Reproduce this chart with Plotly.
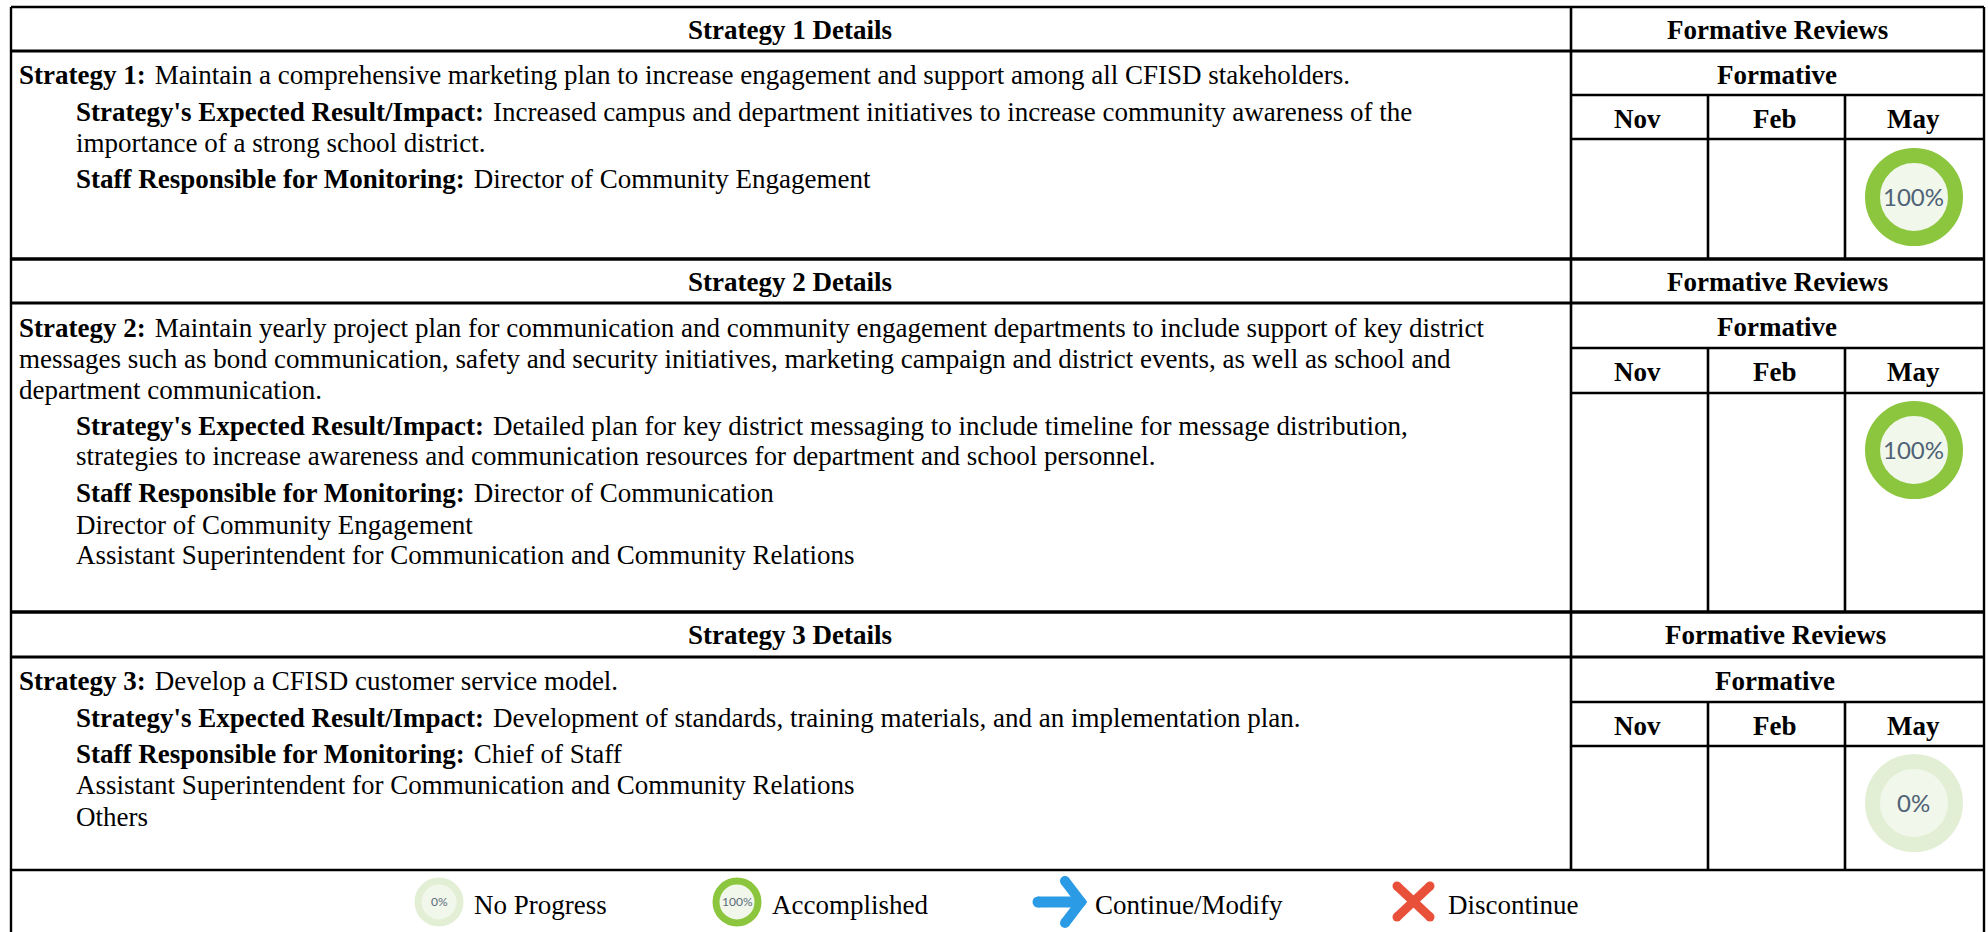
import plotly.graph_objects as go

W, H = 1988, 932
FONT = "Liberation Serif"
SIZE = 27

# ---- content ----
section_titles = ["Strategy 1 Details", "Strategy 2 Details", "Strategy 3 Details"]
review_title = "Formative Reviews"
formative_title = "Formative"
months = ["Nov", "Feb", "May"]
may_progress = [100, 100, 0]
may_labels = ["100%", "100%", "0%"]

body_lines = [
    ["<b>Strategy 1:</b> Maintain a comprehensive marketing plan to increase engagement and support among all CFISD stakeholders."],
    ["<b>Strategy's Expected Result/Impact:</b> Increased campus and department initiatives to increase community awareness of the",
     "importance of a strong school district."],
    ["<b>Staff Responsible for Monitoring:</b> Director of Community Engagement"],
    ["<b>Strategy 2:</b> Maintain yearly project plan for communication and community engagement departments to include support of key district",
     "messages such as bond communication, safety and security initiatives, marketing campaign and district events, as well as school and",
     "department communication."],
    ["<b>Strategy's Expected Result/Impact:</b> Detailed plan for key district messaging to include timeline for message distribution,",
     "strategies to increase awareness and communication resources for department and school personnel."],
    ["<b>Staff Responsible for Monitoring:</b> Director of Communication",
     "Director of Community Engagement",
     "Assistant Superintendent for Communication and Community Relations"],
    ["<b>Strategy 3:</b> Develop a CFISD customer service model."],
    ["<b>Strategy's Expected Result/Impact:</b> Development of standards, training materials, and an implementation plan."],
    ["<b>Staff Responsible for Monitoring:</b> Chief of Staff",
     "Assistant Superintendent for Communication and Community Relations",
     "Others"],
]
body_x = [17, 74, 74, 17, 74, 74, 17, 74, 74]
body_y = [[75], [112, 143], [179],
          [328, 359, 390], [426, 456], [493, 525, 555],
          [681], [718], [754, 785, 817]]

legend_labels = ["No Progress", "Accomplished", "Continue/Modify", "Discontinue"]
legend_label_x = [472, 770, 1093, 1446]
legend_ring_labels = ["0%", "100%"]
legend_ring_x = [439, 737]
legend_ring_colors = ["#E2EFD5", "#8CC63F"]

# ---- grid geometry (px) ----
left, right = 11, 1984
split = 1571
col2, col3 = 1708, 1845
tops = [7, 259, 612]
hdr = [51, 303, 657]
form = [95, 348, 702]
mon = [139, 393, 746]
bottoms = [258, 611, 870]
ring_y = [197, 450, 803]
ring_x = 1914
title_cx = [1777, 1777, 1775]
month_cx = [1637, 1775, 1913]
page_bottom = 932
leg_y = 902

fig = go.Figure()
shapes = []


def line(x0, y0, x1, y1, w=2.6):
    shapes.append(dict(type="line", x0=x0, y0=y0, x1=x1, y1=y1, xref="x", yref="y",
                       line=dict(color="#000000", width=w)))


for i in range(3):
    line(left, tops[i], right, tops[i], 3.6 if i else 2.4)
    line(left, hdr[i], right, hdr[i], 2.8)
    line(split, form[i], right, form[i], 2.6)
    line(split, mon[i], right, mon[i], 2.6)
    line(split, tops[i], split, bottoms[i], 2.6)
    line(col2, form[i], col2, bottoms[i], 2.6)
    line(col3, form[i], col3, bottoms[i], 2.6)
line(left, bottoms[2], right, bottoms[2], 2.4)
line(left, tops[0], left, page_bottom, 2.4)
line(right, tops[0], right, page_bottom, 2.4)

annotations = []


def text(x, y, s, anchor="left", size=SIZE, color="#000000", family=FONT):
    annotations.append(dict(x=x, y=y, text=s, xref="x", yref="y", showarrow=False,
                            xanchor=anchor, yanchor="middle",
                            font=dict(family=family, size=size, color=color)))


for i in range(3):
    text(790, tops[i] + 23, "<b>%s</b>" % section_titles[i], "center")
    text(title_cx[i], tops[i] + 23, "<b>%s</b>" % review_title, "center")
    text(title_cx[i], hdr[i] + 24, "<b>%s</b>" % formative_title, "center")
    for m, cx in zip(months, month_cx):
        text(cx, form[i] + 24, "<b>%s</b>" % m, "center")

for group, x, ys in zip(body_lines, body_x, body_y):
    for s, y in zip(group, ys):
        # the reference leaves a slightly wider gap after the bold lead-in
        text(x, y, s.replace("</b> ", "</b> \u200a"))

# May review rings
ring_color = ["#8CC63F" if v else "#E2EFD5" for v in may_progress]
fig.add_trace(go.Scatter(
    x=[ring_x] * 3, y=ring_y, mode="markers", hoverinfo="skip", showlegend=False,
    marker=dict(size=83, color="#F1F7EA", line=dict(color=ring_color, width=15)),
))
for lab, y in zip(may_labels, ring_y):
    text(ring_x - 1, y - 1, lab, "center", 24, "#4F6277", "Lato")

# legend rings
fig.add_trace(go.Scatter(
    x=legend_ring_x, y=[leg_y] * 2, mode="markers", hoverinfo="skip", showlegend=False,
    marker=dict(size=42, color="#F1F7EA", line=dict(color=legend_ring_colors, width=7)),
))
for lab, x in zip(legend_ring_labels, legend_ring_x):
    text(x, leg_y - 1, lab, "center", 12, "#5A6B7B", "Lato")

# legend arrow and cross
for xs, ys, c, w in [
    ([1038, 1078], [902, 902], "#2B9BE6", 11),
    ([1065, 1081, 1065], [881, 902, 923], "#2B9BE6", 10),
    ([1397, 1430], [886, 917], "#E8503A", 9),
    ([1430, 1397], [886, 917], "#E8503A", 9),
]:
    fig.add_trace(go.Scatter(x=xs, y=ys, mode="lines+markers", hoverinfo="skip", showlegend=False,
                             line=dict(color=c, width=w), marker=dict(color=c, size=w)))

for s, x in zip(legend_labels, legend_label_x):
    text(x, 905, s)

fig.update_layout(
    width=W, height=H, margin=dict(l=0, r=0, t=0, b=0),
    paper_bgcolor="white", plot_bgcolor="white", showlegend=False,
    shapes=shapes, annotations=annotations,
    xaxis=dict(range=[0, W], visible=False, fixedrange=True),
    yaxis=dict(range=[H, 0], visible=False, fixedrange=True),
    font=dict(family=FONT),
)
fig.write_html("out.html", config=dict(displayModeBar=False),
               default_width=W, default_height=H,
               post_script="document.body.style.margin='0';document.body.style.overflow='hidden';")
